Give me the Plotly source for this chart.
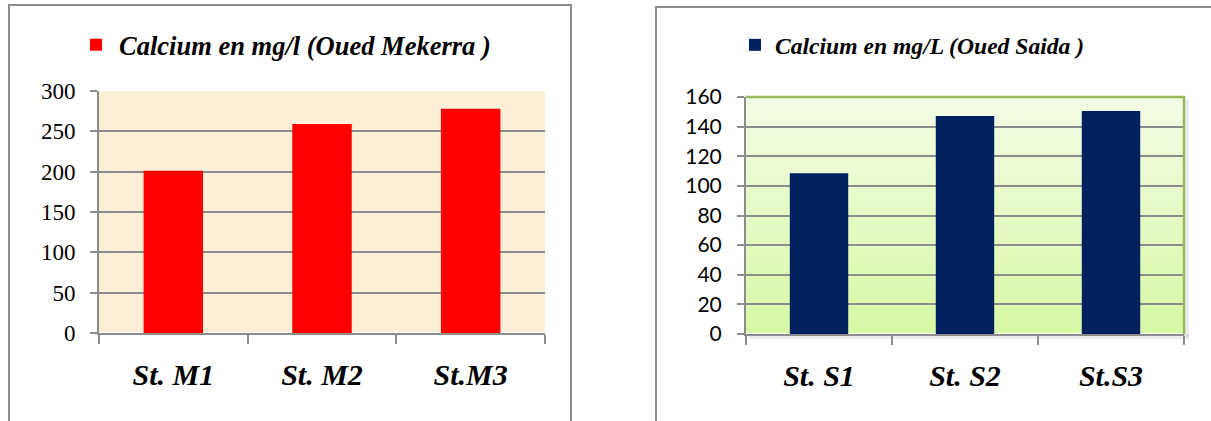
import base64
import plotly.graph_objects as go

# Calcium concentrations (mg/l) at the sampling stations
stations_mekerra = ["St. M1", "St. M2", "St.M3"]
calcium_mekerra = [201, 259, 278]

stations_saida = ["St. S1", "St. S2", "St.S3"]
calcium_saida = [108.5, 147.2, 150.5]

ticks_mekerra = [0, 50, 100, 150, 200, 250, 300]
ticks_saida = [0, 20, 40, 60, 80, 100, 120, 140, 160]

W, H = 1211, 421


def px_x(v):
    return v / W


def px_y(v):
    return (H - v) / H


# plot-area placement in pixels
L_DOM_X = [px_x(99), px_x(545)]
L_DOM_Y = [px_y(333), px_y(91)]
R_DOM_X = [px_x(746), px_x(1184)]
R_DOM_Y = [px_y(334), px_y(97)]

GRID = "#8c8c8c"
SERIF = "Liberation Serif, Times New Roman, serif"
serif_bi = dict(family=SERIF, weight="bold", style="italic", color="black")

fig = go.Figure()

fig.add_trace(go.Bar(
    x=stations_mekerra, y=calcium_mekerra,
    name="Calcium en mg/l (Oued Mekerra )",
    marker=dict(color="#ff0000", line=dict(width=0)),
    xaxis="x", yaxis="y", legend="legend",
))
fig.add_trace(go.Bar(
    x=stations_saida, y=calcium_saida,
    name="Calcium en mg/L (Oued Saida )",
    marker=dict(color="#002060", line=dict(width=0)),
    xaxis="x2", yaxis="y2", legend="legend2",
))

common_x = dict(type="category", range=[-0.5, 2.5], showgrid=False,
                tickson="boundaries", ticks="outside", ticklen=9, tickwidth=1.5,
                tickcolor=GRID, showline=True, linecolor=GRID, linewidth=2,
                tickfont=dict(size=30, **serif_bi), ticklabelstandoff=14,
                automargin=False, fixedrange=True)
common_y = dict(showgrid=True, gridcolor=GRID, gridwidth=2,
                ticks="outside", ticklen=7, tickwidth=1.5, tickcolor=GRID,
                showline=True, linecolor=GRID, linewidth=2,
                automargin=False, fixedrange=True)

fig.update_layout(
    width=W, height=H,
    margin=dict(l=0, r=0, t=0, b=0, autoexpand=False),
    paper_bgcolor="white",
    plot_bgcolor="rgba(0,0,0,0)",
    bargap=0.6,
    xaxis=dict(domain=L_DOM_X, anchor="y", **common_x),
    yaxis=dict(domain=L_DOM_Y, anchor="x", range=[0, 300], tickvals=ticks_mekerra,
               tickfont=dict(family=SERIF, size=23, color="black"),
               ticklabelstandoff=10, **common_y),
    xaxis2=dict(domain=R_DOM_X, anchor="y2", **common_x),
    yaxis2=dict(domain=R_DOM_Y, anchor="x2", range=[0, 160], tickvals=ticks_saida,
                tickfont=dict(family="Lato, Carlito, sans-serif", size=21, color="black"),
                ticklabelstandoff=11, **common_y),
    legend=dict(x=px_x(73), y=px_y(45), xanchor="left", yanchor="middle",
                orientation="h", bgcolor="rgba(0,0,0,0)", borderwidth=0,
                itemwidth=36, font=dict(size=26.5, **serif_bi), itemclick=False),
    legend2=dict(x=px_x(735), y=px_y(45), xanchor="left", yanchor="middle",
                 orientation="h", bgcolor="rgba(0,0,0,0)", borderwidth=0,
                 font=dict(size=23.6, **serif_bi), itemclick=False),
    showlegend=True,
)

# green gradient fill behind the Oued Saida plot area
svg = ('<svg xmlns="http://www.w3.org/2000/svg" width="100" height="100" '
       'preserveAspectRatio="none"><defs><linearGradient id="g" x1="0" y1="0" '
       'x2="0" y2="1"><stop offset="0" stop-color="#f3fce6"/>'
       '<stop offset="1" stop-color="#d8f8a5"/></linearGradient></defs>'
       '<rect width="100" height="100" fill="url(#g)"/></svg>')
svg_uri = "data:image/svg+xml;base64," + base64.b64encode(svg.encode()).decode()
fig.add_layout_image(dict(
    source=svg_uri, xref="paper", yref="paper",
    x=R_DOM_X[0], y=R_DOM_Y[1], sizex=R_DOM_X[1] - R_DOM_X[0],
    sizey=R_DOM_Y[1] - R_DOM_Y[0], xanchor="left", yanchor="top",
    sizing="stretch", layer="below",
))

shapes = [
    # parchment fill behind the Oued Mekerra plot area
    dict(type="rect", xref="paper", yref="paper", layer="below",
         x0=L_DOM_X[0], x1=L_DOM_X[1], y0=L_DOM_Y[0], y1=L_DOM_Y[1],
         fillcolor="#fbefd7", line=dict(width=0)),
    # soft shadow along the right and bottom of the Saida plot area
    dict(type="rect", xref="paper", yref="paper", layer="below",
         x0=R_DOM_X[1], x1=R_DOM_X[1] + px_x(5), y0=R_DOM_Y[0] - 4 / H,
         y1=R_DOM_Y[1] - 3 / H, fillcolor="rgba(0,0,0,0.07)", line=dict(width=0)),
    dict(type="rect", xref="paper", yref="paper", layer="below",
         x0=R_DOM_X[0] + px_x(3), x1=R_DOM_X[1] + px_x(5), y0=R_DOM_Y[0] - 5 / H,
         y1=R_DOM_Y[0], fillcolor="rgba(0,0,0,0.07)", line=dict(width=0)),
    # olive frame on the top and right of the Saida plot area
    dict(type="path", xref="paper", yref="paper", layer="above",
         path=(f"M {R_DOM_X[0]},{R_DOM_Y[1]} L {R_DOM_X[1]},{R_DOM_Y[1]} "
               f"L {R_DOM_X[1]},{R_DOM_Y[0]}"),
         line=dict(color="#9bbb59", width=2.5)),
    # chart frames
    dict(type="rect", xref="paper", yref="paper", layer="above",
         x0=px_x(9), x1=px_x(571), y0=-0.1, y1=px_y(5),
         line=dict(color="#8c8c8c", width=2), fillcolor="rgba(0,0,0,0)"),
    dict(type="rect", xref="paper", yref="paper", layer="above",
         x0=px_x(656), x1=1.1, y0=-0.1, y1=px_y(7),
         line=dict(color="#8c8c8c", width=2), fillcolor="rgba(0,0,0,0)"),
]
fig.update_layout(shapes=shapes)

fig.write_html("out.html", config={"displayModeBar": False})
